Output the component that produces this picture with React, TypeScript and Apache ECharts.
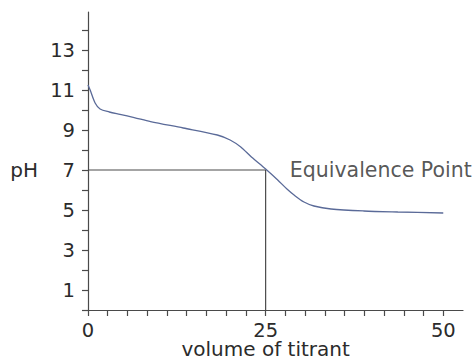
import React, { useEffect, useRef } from "react";
import * as echarts from "echarts";

const volume = [0, 0.3, 1, 1.7, 3, 4.5, 6.5, 8.8, 13.4, 18.2, 20, 21.5, 23, 25, 26.7, 28, 29, 30.4, 31.8, 34.2, 38.8, 43.6, 50];
const pH = [11.25, 11.0, 10.35, 10.05, 9.9, 9.78, 9.62, 9.42, 9.1, 8.75, 8.5, 8.15, 7.65, 7.05, 6.5, 6.05, 5.75, 5.4, 5.2, 5.05, 4.95, 4.9, 4.85];

const equivX = [0, 25, 25];
const equivY = [7, 7, 0];

const xLabels = [0, 25, 50];
const yLabels = [1, 3, 5, 7, 9, 11, 13];
const annotation = { x: 28.4, y: 7.0, text: "Equivalence Point" };

const FONT = "DejaVu Sans";
const TEXT = "#2b2b2b";
const AXIS = "#4a4a4a";

export default function App() {
  const ref = useRef<HTMLDivElement>(null);
  useEffect(() => {
    if (!ref.current) return;
    const chart = echarts.init(ref.current, undefined, { renderer: "svg" });
    const xStep = 25 / 9;
    chart.setOption({
      animation: false,
      backgroundColor: "#ffffff",
      grid: [
        { left: 88, right: 12, top: 12, bottom: 49, containLabel: false, outerBoundsMode: "none" },
        { left: 88, right: 31.7, top: 30, bottom: 49, containLabel: false, outerBoundsMode: "none" },
      ],
      xAxis: [
        {
          type: "value", gridIndex: 0, min: 0, max: 19 * xStep,
          axisLine: { show: true, onZero: false, lineStyle: { color: AXIS, width: 1.2 } },
          axisTick: { show: false }, axisLabel: { show: false }, splitLine: { show: false },
        },
        {
          type: "value", gridIndex: 1, min: 0, max: 50, interval: xStep,
          axisLine: { show: false },
          axisTick: { show: true, length: 6, lineStyle: { color: AXIS, width: 1.2 } },
          splitLine: { show: false },
          axisLabel: {
            margin: 11, color: TEXT, fontFamily: FONT, fontSize: 19.5, lineHeight: 18,
            formatter: (v: number) => {
              const r = Math.round(v);
              return Math.abs(v - r) < 0.01 && xLabels.includes(r) ? String(r) : "";
            },
          },
          name: "volume of titrant", nameLocation: "middle", nameGap: 30,
          nameMoveOverlap: false,
          nameTextStyle: {
            color: TEXT, fontFamily: FONT, fontSize: 20, verticalAlign: "top", lineHeight: 18,
          },
        },
      ],
      yAxis: [
        {
          type: "value", gridIndex: 0, min: 0, max: 14.9,
          axisLine: { show: true, onZero: false, lineStyle: { color: AXIS, width: 1.2 } },
          axisTick: { show: false }, axisLabel: { show: false }, splitLine: { show: false },
        },
        {
          type: "value", gridIndex: 1, min: 0, max: 14, interval: 1,
          axisLine: { show: false },
          axisTick: { show: true, length: 6, lineStyle: { color: AXIS, width: 1.2 } },
          splitLine: { show: false },
          axisLabel: {
            margin: 13, color: TEXT, fontFamily: FONT, fontSize: 19.5,
            padding: [6, 0, 0, 0],
            formatter: (v: number) => (yLabels.includes(v) ? String(v) : ""),
          },
          name: "pH", nameLocation: "middle", nameRotate: 0, nameGap: 50,
          nameMoveOverlap: false,
          nameTextStyle: { color: TEXT, fontFamily: FONT, fontSize: 20, padding: [18, 0, 0, 0] },
        },
      ],
      series: [
        {
          type: "line", xAxisIndex: 0, yAxisIndex: 0,
          data: equivX.map((x, i) => [x, equivY[i]]),
          showSymbol: false, lineStyle: { color: "#4a4a4a", width: 1.2 },
          silent: true,
        },
        {
          type: "line", xAxisIndex: 0, yAxisIndex: 0,
          data: volume.map((x, i) => [x, pH[i]]),
          smooth: 0.3, showSymbol: false,
          lineStyle: { color: "#5a6a98", width: 1.3 },
        },
        {
          type: "scatter", xAxisIndex: 0, yAxisIndex: 0,
          data: [[annotation.x, annotation.y]], symbolSize: 0,
          label: {
            show: true, position: "right", distance: 0,
            formatter: annotation.text, color: TEXT, fontFamily: FONT, fontSize: 20.5,
          },
        },
      ],
    });
    return () => chart.dispose();
  }, []);
  return (
    <div
      ref={ref}
      style={{ position: "absolute", left: 0, top: 0, width: 475, height: 359 }}
    />
  );
}
